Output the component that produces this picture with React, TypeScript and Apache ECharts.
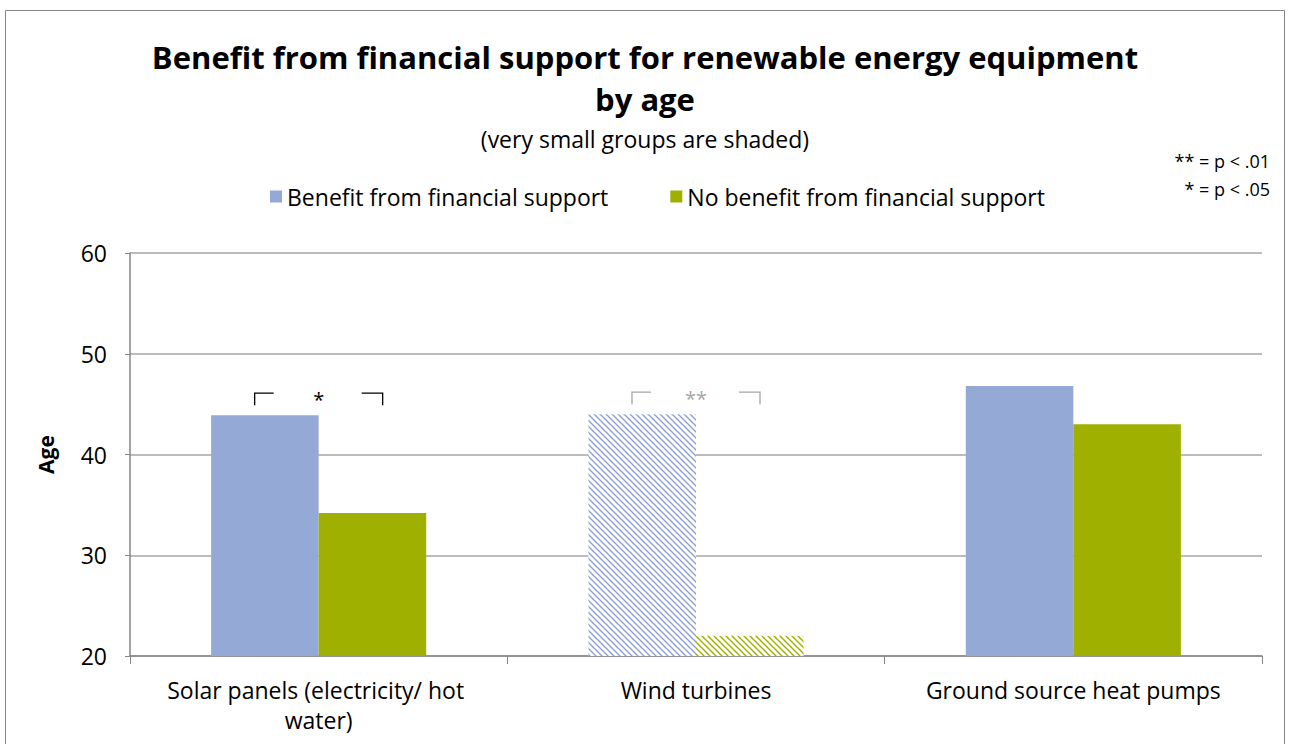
import React, { useEffect, useRef } from "react";
import * as echarts from "echarts";

const categories = ["Solar panels (electricity/ hot water)", "Wind turbines", "Ground source heat pumps"];
const seriesNames = ["Benefit from financial support", "No benefit from financial support"];
const benefit = [43.9, 44.0, 46.8];
const noBenefit = [34.2, 22.0, 43.0];
const shaded = [false, true, false];
const significance = ["*", "**", ""];
const yMin = 20;
const yMax = 60;
const yInterval = 10;
const notes = ["** = p < .01", "* = p < .05"];

const BLUE = "#95a9d6";
const GREEN = "#9fb000";
const FONT = "'Open Sans', Lato, 'Liberation Sans', sans-serif";

function makeHatch(color: string) {
  const c = document.createElement("canvas");
  c.width = 6;
  c.height = 6;
  const ctx = c.getContext("2d")!;
  ctx.fillStyle = "#ffffff";
  ctx.fillRect(0, 0, 6, 6);
  ctx.strokeStyle = color;
  ctx.lineWidth = 1.4;
  ctx.beginPath();
  ctx.moveTo(-1, -1);
  ctx.lineTo(7, 7);
  ctx.moveTo(-1, 5);
  ctx.lineTo(1, 7);
  ctx.moveTo(5, -1);
  ctx.lineTo(7, 1);
  ctx.stroke();
  return { image: c, repeat: "repeat" as const };
}

export default function App() {
  const ref = useRef<HTMLDivElement>(null);
  useEffect(() => {
    if (!ref.current) return;
    const chart = echarts.init(ref.current, null, { renderer: "svg" });
    const blueHatch = makeHatch("#8aa0d6");
    const greenHatch = makeHatch("#9fb000");
    const mk = (vals: number[], color: string, hatch: any) =>
      vals.map((v, i) => ({ value: v, itemStyle: { color: shaded[i] ? hatch : color } }));

    chart.setOption({
      animation: false,
      backgroundColor: "#ffffff",
      textStyle: { fontFamily: FONT },
      title: {
        text: "Benefit from financial support for renewable energy equipment\nby age",
        subtext: "(very small groups are shaded)",
        left: "center",
        top: 31,
        itemGap: 5,
        textStyle: { fontFamily: FONT, fontSize: 31, fontWeight: "bold", color: "#000", lineHeight: 42 },
        subtextStyle: { fontFamily: FONT, fontSize: 23, color: "#000", lineHeight: 28 },
      },
      legend: {
        top: 180,
        left: 265,
        itemWidth: 12,
        itemHeight: 12,
        itemGap: 62,
        icon: "rect",
        textStyle: { fontFamily: FONT, fontSize: 23, color: "#000" },
        data: seriesNames,
      },
      grid: { left: 130, right: 28, top: 253, bottom: 88, containLabel: false },
      xAxis: {
        type: "category",
        data: categories,
        axisLine: { lineStyle: { color: "#868686", width: 1.5 } },
        axisTick: { show: true, length: 8, lineStyle: { color: "#868686" } },
        axisLabel: {
          color: "#000",
          fontSize: 23,
          fontFamily: FONT,
          margin: 19,
          lineHeight: 30,
          width: 345,
          overflow: "break",
          interval: 0,
        },
      },
      yAxis: {
        type: "value",
        min: yMin,
        max: yMax,
        interval: yInterval,
        name: "Age",
        nameLocation: "middle",
        nameGap: 74,
        nameTextStyle: { fontFamily: FONT, fontSize: 21, fontWeight: "bold", color: "#000" },
        axisLine: { show: true, lineStyle: { color: "#868686", width: 1.5 } },
        axisTick: { show: true, length: 5, lineStyle: { color: "#868686" } },
        axisLabel: { color: "#000", fontSize: 23, fontFamily: FONT, margin: 23 },
        splitLine: { lineStyle: { color: "#a6a6a6", width: 1.5 } },
      },
      series: [
        {
          name: seriesNames[0],
          type: "bar",
          barGap: "0%",
          barCategoryGap: "43%",
          itemStyle: { color: BLUE },
          data: mk(benefit, BLUE, blueHatch),
        },
        {
          name: seriesNames[1],
          type: "bar",
          itemStyle: { color: GREEN },
          data: mk(noBenefit, GREEN, greenHatch),
        },
      ],
    });

    const graphics: any[] = [
      {
        type: "rect",
        shape: { x: 5.5, y: 10.5, width: 1279, height: 800 },
        style: { fill: "none", stroke: "#868686", lineWidth: 1 },
        silent: true,
      },
    ];
    notes.forEach((t, i) => {
      graphics.push({
        type: "text",
        right: 20,
        top: 152 + i * 28,
        style: { text: t, fontFamily: FONT, fontSize: 18, fill: "#000", textAlign: "right" },
      });
    });
    categories.forEach((_, ci) => {
      const sig = significance[ci];
      if (!sig) return;
      const top = Math.max(benefit[ci], noBenefit[ci]);
      const c = chart.convertToPixel({ xAxisIndex: 0, yAxisIndex: 0 }, [ci, top]) as number[];
      const cx = c[0];
      const y0 = c[1] - 22;
      const col = shaded[ci] ? "#a6a6a6" : "#000000";
      graphics.push({
        type: "polyline",
        shape: { points: [[cx - 64, y0 + 12], [cx - 64, y0], [cx - 45, y0]] },
        style: { stroke: col, lineWidth: 1.3, fill: "none" },
      });
      graphics.push({
        type: "polyline",
        shape: { points: [[cx + 43, y0], [cx + 64, y0], [cx + 64, y0 + 12]] },
        style: { stroke: col, lineWidth: 1.3, fill: "none" },
      });
      graphics.push({
        type: "text",
        x: cx,
        y: y0 - 4,
        style: { text: sig, fontFamily: FONT, fontSize: 20, fill: col, textAlign: "center", textVerticalAlign: "top" },
      });
    });
    chart.setOption({ graphic: graphics });

    return () => chart.dispose();
  }, []);

  return (
    <div
      ref={ref}
      style={{ position: "absolute", left: 0, top: 0, width: 1290, height: 744, background: "#fff" }}
    />
  );
}
